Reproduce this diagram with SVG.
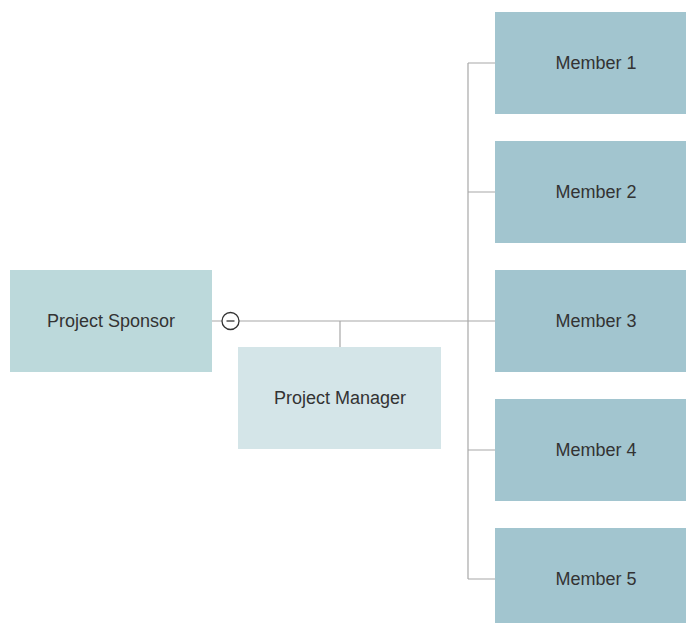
<svg xmlns="http://www.w3.org/2000/svg" width="686" height="623" viewBox="0 0 686 623">
<style>
.lbl{font-family:"Liberation Sans",Arial,sans-serif;font-size:18px;fill:#333;text-anchor:middle;dominant-baseline:central}
.ln{stroke:#a8a8a8;stroke-width:1.2;fill:none}
.mem{fill:#a2c5cf}
</style>
<rect width="686" height="623" fill="#fff"/>
<g id="connectors">
<path class="ln" d="M212 321H222M239 321H495M340 321V347M468 63V579M468 63H495M468 192H495M468 450H495M468 579H495"/>
<circle cx="230.5" cy="321" r="8.5" fill="#fff" stroke="#333" stroke-width="1.3"/>
<line x1="226.5" y1="321" x2="234.5" y2="321" stroke="#333" stroke-width="1.3"/>
</g>
<g id="sponsor"><rect x="10" y="270" width="202" height="102" fill="#bcd9db"/><text class="lbl" x="111" y="321">Project Sponsor</text></g>
<g id="manager"><rect x="238" y="347" width="203" height="102" fill="#d4e5e8"/><text class="lbl" x="340" y="398">Project Manager</text></g>
<g id="member1"><rect class="mem" x="495" y="12" width="202" height="102"/><text class="lbl" x="596" y="63">Member 1</text></g>
<g id="member2"><rect class="mem" x="495" y="141" width="202" height="102"/><text class="lbl" x="596" y="192">Member 2</text></g>
<g id="member3"><rect class="mem" x="495" y="270" width="202" height="102"/><text class="lbl" x="596" y="321">Member 3</text></g>
<g id="member4"><rect class="mem" x="495" y="399" width="202" height="102"/><text class="lbl" x="596" y="450">Member 4</text></g>
<g id="member5"><rect class="mem" x="495" y="528" width="202" height="102"/><text class="lbl" x="596" y="579">Member 5</text></g>
</svg>
